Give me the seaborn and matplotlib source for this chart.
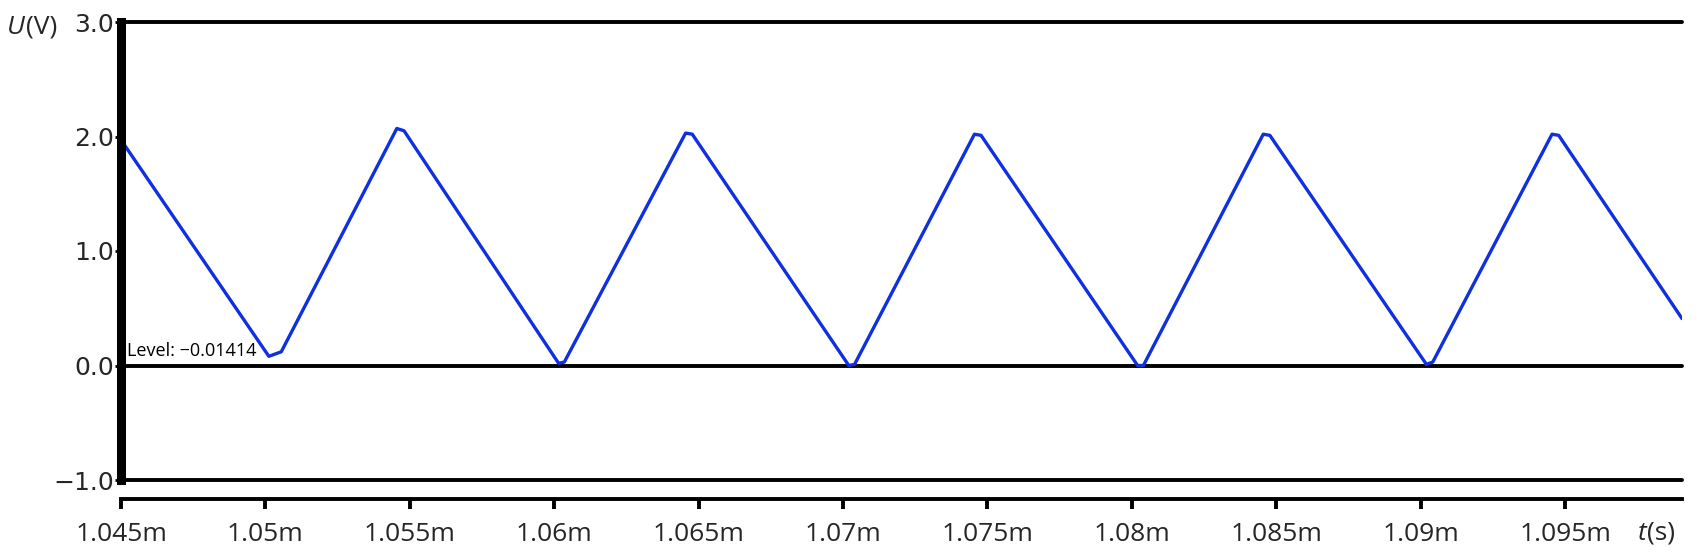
import seaborn as sns
import matplotlib.pyplot as plt
import pandas as pd

sns.set_theme(style="white")
plt.rcParams['font.family'] = ['Open Sans', 'DejaVu Sans']

# time in ms, voltage in V
t_ms = [1.0450, 1.05012, 1.05055, 1.05455, 1.05480, 1.06015, 1.06035,
        1.06455, 1.06478, 1.07020, 1.07040, 1.07455, 1.07478, 1.08020,
        1.08040, 1.08455, 1.08478, 1.09020, 1.09042, 1.09455, 1.09478, 1.09905]
u_v = [1.97, 0.08, 0.12, 2.07, 2.05, 0.02, 0.03,
       2.03, 2.02, 0.00, 0.01, 2.02, 2.01, 0.00,
       0.00, 2.02, 2.01, 0.01, 0.03, 2.02, 2.01, 0.41]

x_ticks = [1.045, 1.05, 1.055, 1.06, 1.065, 1.07, 1.075, 1.08, 1.085, 1.09, 1.095]
x_labels = ["1.045m", "1.05m", "1.055m", "1.06m", "1.065m", "1.07m",
            "1.075m", "1.08m", "1.085m", "1.09m", "1.095m"]
y_ticks = [-1.0, 0.0, 1.0, 2.0, 3.0]
y_labels = ["\u22121.0", "0.0", "1.0", "2.0", "3.0"]
level_text = "Level: \u22120.01414"

df = pd.DataFrame({"t": t_ms, "u": u_v})

fig = plt.figure(figsize=(16.97, 5.6), dpi=100)
ax = fig.add_axes([121 / 1697, 1 - 480 / 560, (1682 - 121) / 1697, (480 - 22) / 560])

sns.lineplot(data=df, x="t", y="u", ax=ax, color="#1030e0", linewidth=2.4)
for ln in ax.lines:
    ln.set_solid_joinstyle("round")

for yv in [3.0, 0.0, -1.0]:
    ax.axhline(yv, color="black", linewidth=2.8, zorder=1, clip_on=False)

ax.set_xlim(1.045, 1.09905)
ax.set_ylim(-1.0, 3.0)
ax.set_xticks(x_ticks)
ax.set_xticklabels(x_labels)
ax.set_yticks(y_ticks)
ax.set_yticklabels(y_labels, family="DejaVu Sans")
ax.set_xlabel("")
ax.set_ylabel("")

for s in ["top", "right"]:
    ax.spines[s].set_visible(False)
ax.spines["left"].set_linewidth(6.5)
ax.spines["left"].set_color("black")
ax.spines["left"].set_zorder(3)
ax.spines["bottom"].set_position(("outward", 14))
ax.spines["bottom"].set_linewidth(2.8)
ax.spines["bottom"].set_color("black")

ax.tick_params(axis="x", bottom=True, direction="out", length=7, width=2.8,
               color="black", labelsize=19, pad=9)
ax.tick_params(axis="y", left=True, direction="out", length=4, width=2,
               color="black", labelsize=18, pad=1)

ax.text(1.0452, 0.05, level_text, fontsize=13, color="black", va="bottom", ha="left")

fig.text(7 / 1697, 1 - 27 / 560, "U", fontsize=19, style="italic", va="center", ha="left")
fig.text(26 / 1697, 1 - 27 / 560, "(V)", fontsize=19, va="center", ha="left")
fig.text(1638 / 1697, 1 - 533 / 560, "t", fontsize=19, style="italic", va="center", ha="left")
fig.text(1647 / 1697, 1 - 533 / 560, "(s)", fontsize=19, va="center", ha="left")

fig.savefig("out.png", dpi=100)
